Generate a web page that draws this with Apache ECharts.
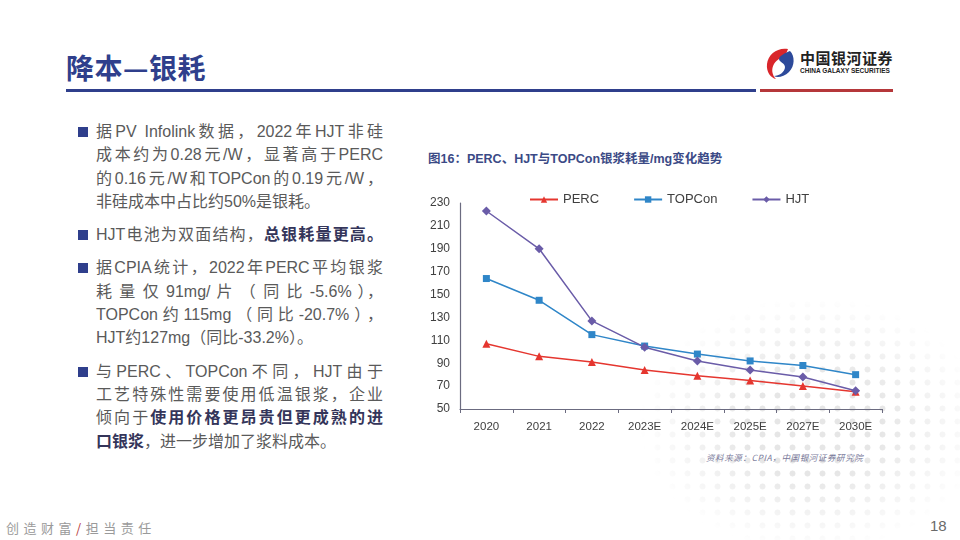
<!DOCTYPE html>
<html>
<head>
<meta charset="utf-8">
<script src="https://cdn.jsdelivr.net/npm/echarts@6/dist/echarts.min.js"></script>
<style>
	body{margin:0;padding:0;}
	.slide{position:relative;width:960px;height:540px;background:#fff;overflow:hidden;font-family:"Noto Sans CJK SC","Noto Sans",sans-serif;}
	.dots{position:absolute;left:560px;top:220px;width:420px;height:340px;
		background-image:radial-gradient(circle,#e6e6e6 2.7px,transparent 3.3px);
		background-size:15px 13px;
		-webkit-mask-image:radial-gradient(ellipse 55% 50% at 60% 60%,rgba(0,0,0,1) 30%,rgba(0,0,0,0) 75%);
		mask-image:radial-gradient(ellipse 55% 50% at 60% 60%,rgba(0,0,0,1) 30%,rgba(0,0,0,0) 75%);}
	.title{position:absolute;left:66px;top:47px;font-size:28px;font-weight:bold;color:#2f3f8c;letter-spacing:0.5px;}
	.bar1{position:absolute;left:66px;top:89px;width:690px;height:3px;background:#2f3f8c;}
	.bar2{position:absolute;left:760px;top:89px;width:133px;height:3px;background:#b5373a;}
	.logo{position:absolute;left:764px;top:46px;}
	.logo .cn{position:absolute;left:36px;top:1px;font-size:15px;font-weight:bold;color:#222;white-space:nowrap;letter-spacing:0.5px;}
	.logo .en{position:absolute;left:36px;top:21px;font-size:6.5px;font-weight:bold;color:#222;white-space:nowrap;font-family:"Liberation Sans",sans-serif;}
	.txt{position:absolute;left:96px;top:120px;width:287px;font-size:16px;line-height:23.3px;color:#5a5a5a;font-family:"Liberation Sans","Noto Sans CJK SC",sans-serif;}
	.txt p{margin:0 0 10px 0;position:relative;}
	.txt p:before{content:"";position:absolute;left:-18px;top:7px;width:10px;height:10px;background:#2f3f8c;}
	.txt span.l{display:block;text-align:justify;text-align-last:justify;white-space:nowrap;}
	.txt span.e{display:block;white-space:nowrap;}
	.txt b{color:#34355a;}
	.ctitle{position:absolute;left:428px;top:148px;font-size:12.5px;font-weight:bold;color:#3b4a86;white-space:nowrap;font-family:"Liberation Sans","Noto Sans CJK SC",sans-serif;}
	#chart{position:absolute;left:420px;top:180px;width:480px;height:270px;}
	.src{position:absolute;left:706px;top:451px;font-size:8.5px;font-style:italic;color:#7a7a9a;white-space:nowrap;letter-spacing:0.6px;}
	.foot{position:absolute;left:6px;top:518px;font-size:13px;color:#9a9a9a;letter-spacing:4.5px;white-space:nowrap;}
	.foot i{color:#b5373a;font-style:normal;}
	.page{position:absolute;left:930px;top:517px;font-size:15px;color:#6a6a6a;font-family:"Liberation Sans",sans-serif;}
</style>
</head>
<body>
<div class="slide">
	<div class="dots"></div>
	<div class="title">降本—银耗</div>
	<div class="bar1"></div>
	<div class="bar2"></div>
	<div class="logo">
		<svg width="34" height="34" viewBox="0 0 34 34">
			<path d="M24 3 C14 1 4 8 3 18 C2 26 7 32 12 33 C8 29 7 23 10 18 C13 13 19 11 22 8 Z" fill="#d9262b"/>
			<path d="M26 5 C31 10 31 20 25 26 C20 31 13 32 10 30 C15 30 21 26 21 21 C21 17 15 16 15 13 C15 10 21 7 26 5 Z" fill="#2d4a9a"/>
		</svg>
		<div class="cn">中国银河证券</div>
		<div class="en">CHINA GALAXY SECURITIES</div>
	</div>

	<div class="txt">
		<p><span class="l">据PV Infolink数据，2022年HJT非硅</span><span class="l">成本约为0.28元/W，显著高于PERC</span><span class="l">的0.16元/W和TOPCon的0.19元/W，</span><span class="e">非硅成本中占比约50%是银耗。</span></p>
		<p><span class="l">HJT电池为双面结构，<b>总银耗量更高。</b></span></p>
		<p><span class="l">据CPIA统计，2022年PERC平均银浆</span><span class="l">耗 量 仅 91mg/ 片 （ 同 比 -5.6% ），</span><span class="l">TOPCon约115mg（同比-20.7%），</span><span class="e">HJT约127mg（同比-33.2%）。</span></p>
		<p><span class="l">与PERC、TOPCon不同，HJT由于</span><span class="l">工艺特殊性需要使用低温银浆，企业</span><span class="l">倾向于<b>使用价格更昂贵但更成熟的进</b></span><span class="e"><b>口银浆</b>，进一步增加了浆料成本。</span></p>
	</div>

	<div class="ctitle">图16：PERC、HJT与TOPCon银浆耗量/mg变化趋势</div>
	<div id="chart"></div>
	<div class="src">资料来源：CPIA，中国银河证券研究院</div>
	<div class="foot">创造财富<i>/</i>担当责任</div>
	<div class="page">18</div>
</div>

<script>
	// 年份
	var years = ['2020','2021','2022','2023E','2024E','2025E','2027E','2030E'];
	// 银浆耗量 mg/片
	var perc = [107, 96, 91, 84, 79, 75, 70, 65];
	var topcon = [164, 145, 115, 105, 98, 92, 88, 80];
	var hjt = [223, 190, 127, 104, 92, 84, 78, 66];

	var chart = echarts.init(document.getElementById('chart'));

	chart.setOption({
		animation: false,
		legend: {
			top: 8,
			left: 104,
			itemGap: 34,
			itemWidth: 28,
			itemHeight: 8,
			textStyle: {color: '#404040', fontSize: 13, fontFamily: 'Liberation Sans'},
			data: ['PERC', 'TOPCon', 'HJT']
		},
		grid: {
			left: 40,
			right: 18,
			top: 23,
			bottom: 41
		},
		xAxis: {
			type: 'category',
			data: years,
			axisLine: {lineStyle: {color: '#6b6b80', width: 1.2}},
			axisTick: {show: true, length: 4, lineStyle: {color: '#6b6b80'}},
			axisLabel: {color: '#404040', fontSize: 11.5, margin: 12, fontFamily: 'Liberation Sans'}
		},
		yAxis: {
			type: 'value',
			min: 50,
			max: 230,
			interval: 20,
			axisLine: {show: true, lineStyle: {color: '#6b6b80', width: 1.2}},
			axisTick: {show: false},
			splitLine: {show: false},
			axisLabel: {color: '#404040', fontSize: 12, margin: 10, fontFamily: 'Liberation Sans'}
		},
		series: [
			{
				name: 'PERC',
				type: 'line',
				data: perc,
				symbol: 'triangle',
				symbolSize: 8,
				color: '#e5362f',
				lineStyle: {width: 1.5}
			},
			{
				name: 'TOPCon',
				type: 'line',
				data: topcon,
				symbol: 'rect',
				symbolSize: 7,
				color: '#2f86c8',
				lineStyle: {width: 1.5}
			},
			{
				name: 'HJT',
				type: 'line',
				data: hjt,
				symbol: 'diamond',
				symbolSize: 9,
				color: '#6a5ca8',
				lineStyle: {width: 1.5}
			}
		]
	});
</script>
</body>
</html>
